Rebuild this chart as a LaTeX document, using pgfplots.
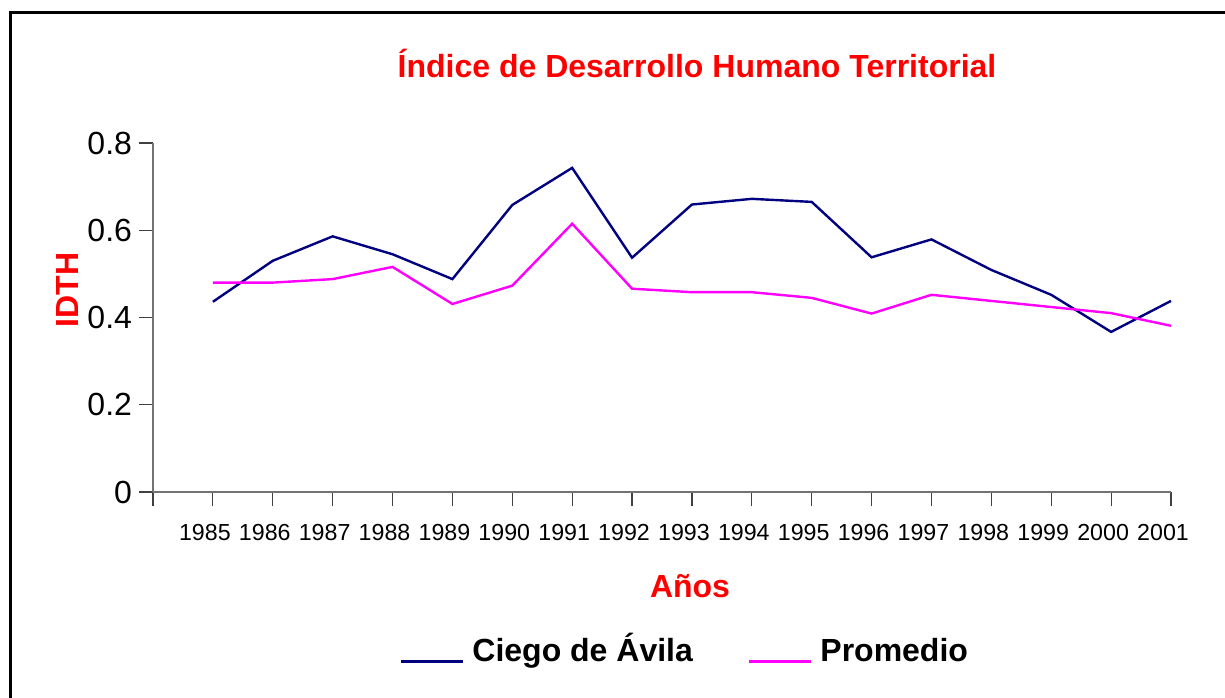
\documentclass[border=0pt]{standalone}
\usepackage{pgfplots}
\pgfplotsset{compat=1.18}
\usepackage{fontspec}
\setmainfont{Liberation Sans}
\definecolor{navyc}{RGB}{0,0,128}
\definecolor{magc}{RGB}{255,0,255}
\definecolor{redc}{RGB}{255,0,0}
\begin{document}
\begin{tikzpicture}
\useasboundingbox (0pt,0pt) rectangle (612.5pt,348.5pt);
\draw[line width=1.3pt] (5.25pt,-2pt) -- (5.25pt,342.25pt) -- (614pt,342.25pt);
\begin{axis}[
  at={(76.5pt,102.5pt)}, anchor=south west,
  width=509pt, height=174.5pt, scale only axis,
  xmin=1984, xmax=2001, ymin=0, ymax=0.8,
  axis x line*=bottom, axis y line*=left,
  axis line style={draw=black!55, line width=0.7pt},
  tick style={draw=black!75, line width=0.6pt},
  tick align=outside, major tick length=7pt,
  xtick={1984,1985,...,2001},
  xticklabels={{},1985,1986,1987,1988,1989,1990,1991,1992,1993,1994,1995,1996,1997,1998,1999,2000,2001},
  ytick={0,0.2,0.4,0.6,0.8},
  yticklabels={0,0.2,0.4,0.6,0.8},
  xticklabel style={font=\fontsize{11.6}{14}\selectfont, yshift=-5.5pt, xshift=-4pt},
  yticklabel style={font=\fontsize{16}{18}\selectfont},
  /pgf/number format/assume math mode=true,
  clip=false,
]
\addplot[navyc, line width=1.2pt] coordinates {
(1985,0.436) (1986,0.530) (1987,0.586) (1988,0.545) (1989,0.488)
(1990,0.658) (1991,0.743) (1992,0.537) (1993,0.659) (1994,0.672)
(1995,0.665) (1996,0.538) (1997,0.579) (1998,0.509) (1999,0.452)
(2000,0.367) (2001,0.438)};
\addplot[magc, line width=1.2pt] coordinates {
(1985,0.480) (1986,0.480) (1987,0.488) (1988,0.516) (1989,0.431)
(1990,0.473) (1991,0.615) (1992,0.466) (1993,0.458) (1994,0.458)
(1995,0.445) (1996,0.409) (1997,0.452) (1998,0.438) (1999,0.424)
(2000,0.410) (2001,0.381)};
\end{axis}
\node[anchor=base, text=redc, font=\fontsize{16}{19}\selectfont\bfseries] at (348.5pt,309.5pt) {Índice de Desarrollo Humano Territorial};
\node[anchor=base, rotate=90, text=redc, font=\fontsize{16}{19}\selectfont\bfseries, inner sep=0pt] at (39pt,203.5pt) {IDTH};
\node[anchor=base, text=redc, font=\fontsize{16}{19}\selectfont\bfseries] at (345pt,50pt) {Años};
\draw[navyc, line width=1.3pt] (200.5pt,17.7pt) -- (231.5pt,17.7pt);
\node[anchor=base west, inner sep=0pt, font=\fontsize{16}{19}\selectfont\bfseries] at (236pt,18pt) {Ciego de Ávila};
\draw[magc, line width=1.3pt] (374.5pt,17.7pt) -- (405.5pt,17.7pt);
\node[anchor=base west, inner sep=0pt, font=\fontsize{16}{19}\selectfont\bfseries] at (410pt,18pt) {Promedio};
\end{tikzpicture}
\end{document}
